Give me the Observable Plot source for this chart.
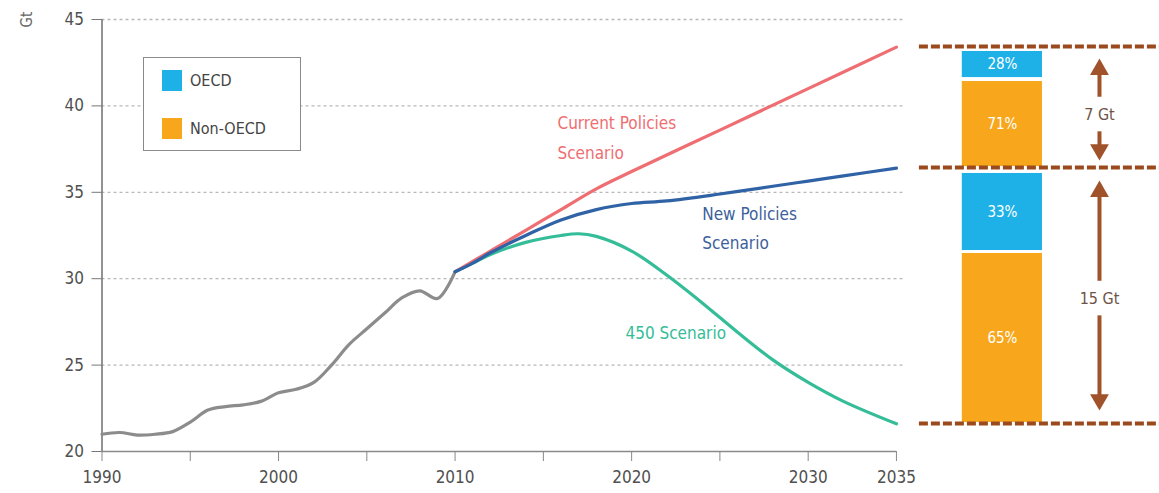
<!DOCTYPE html>
<html>
<head>
<meta charset="utf-8">
<script src="https://cdn.jsdelivr.net/npm/d3@7"></script>
<script src="https://cdn.jsdelivr.net/npm/@observablehq/plot@0.6"></script>
<style>
  html, body { margin: 0; padding: 0; background: #fff; }
  #wrap { position: relative; width: 1159px; height: 493px; font-family: "DejaVu Sans Condensed", "DejaVu Sans", sans-serif; font-stretch: condensed; }
  #legend { position: absolute; left: 143px; top: 57px; width: 158px; height: 94px; border: 1.5px solid #8a8a8a; box-sizing: border-box; background: #fff; }
  .li { position: absolute; left: 18px; display: flex; align-items: center; font-size: 16px; color: #444; }
  .sw { width: 20px; height: 21px; margin-right: 8px; }
</style>
</head>
<body>
<div id="wrap"></div>
<script>
// ---------- data ----------
const histYears = [1990,1991,1992,1993,1994,1995,1996,1997,1998,1999,2000,2001,2002,2003,2004,2005,2006,2007,2008,2009,2010];
const histValues = [21.0,21.1,20.95,21.0,21.15,21.7,22.4,22.6,22.7,22.9,23.4,23.6,24.0,25.0,26.2,27.1,28.0,28.9,29.3,28.85,30.4];

const currentYears = [2010,2012,2014,2016,2018,2020,2025,2030,2035];
const currentValues = [30.4,31.6,32.8,34.0,35.2,36.2,38.6,41.0,43.4];

const newYears = [2010,2011,2012,2014,2016,2018,2020,2022,2025,2028,2030,2032,2035];
const newValues = [30.4,30.9,31.5,32.5,33.4,34.0,34.35,34.5,34.9,35.35,35.65,35.95,36.4];

const s450Years = [2010,2011,2012,2014,2016,2017,2018,2020,2022,2024,2026,2028,2030,2032,2035];
const s450Values = [30.4,30.9,31.4,32.1,32.5,32.6,32.45,31.6,30.2,28.6,26.9,25.3,24.0,22.9,21.6];

const yTicks = [20,25,30,35,40,45];
const gridTicks = [25,30,35,40,45];
const xTicks = [1990,1995,2000,2005,2010,2015,2020,2025,2030,2035];
const xLabeled = [1990,2000,2010,2020,2030,2035];

// right panel: 2035 gaps between scenarios
const bandEdges = [43.44, 36.44, 21.62];
const bandLabels = ["7 Gt", "15 Gt"];
const bandLabelY = [39.5, 28.85];
const arrowTipTop = [42.74, 35.68];
const arrowTipBottom = [36.84, 22.37];

const segRegion = ["OECD", "Non-OECD", "OECD", "Non-OECD"];
const segTop = [43.15, 41.41, 36.09, 31.46];
const segBottom = [41.64, 36.49, 31.63, 21.68];
const segShare = ["28%", "71%", "33%", "65%"];

const scenarioLabels = [
  {text: "Current Policies", x: 2015.8, y: 38.98, s: "Current"},
  {text: "Scenario", x: 2015.8, y: 37.25, s: "Current"},
  {text: "New Policies", x: 2024.0, y: 33.7, s: "New"},
  {text: "Scenario", x: 2024.0, y: 32.05, s: "New"},
  {text: "450 Scenario", x: 2019.65, y: 26.85, s: "450"}
];

// ---------- layout / style ----------
const colors = {hist: "#8c8c8c", Current: "#ee6e72", New: "#2f63a6", "450": "#34bd98",
  OECD: "#1db1e7", "Non-OECD": "#f8a71c", brown: "#9a4a1c", arrow: "#a0532a", labelNew: "#3d5f9c"};
const panel = {dashX1: 2036.3, dashX2: 2050, barX1: 2038.73, barX2: 2043.27, arrowX: 2046.5};
const labelGap = 1.0;     // Gt between label and arrow shaft
const headOffset = 0.63;  // Gt from tip to triangle centre

const toPts = (xs, ys) => xs.map((x, i) => ({x, y: ys[i]}));
const hist = toPts(histYears, histValues);
const cur = toPts(currentYears, currentValues);
const nw = toPts(newYears, newValues);
const s450 = toPts(s450Years, s450Values);

const segs = segRegion.map((r, i) => ({region: r, y1: segTop[i], y2: segBottom[i], label: segShare[i]}));
const bands = bandLabels.map((l, i) => ({label: l, y: bandLabelY[i], top: arrowTipTop[i], bot: arrowTipBottom[i]}));
const shafts = bands.flatMap(b => [
  {y1: b.top - headOffset, y2: b.y + labelGap},
  {y1: b.y - labelGap, y2: b.bot + headOffset}
]);
const heads = bands.flatMap(b => [
  {y: b.top - headOffset, rot: 0},
  {y: b.bot + headOffset, rot: 180}
]);

const font = '"DejaVu Sans Condensed", "DejaVu Sans", sans-serif';

const chart = Plot.plot({
  width: 1159,
  height: 493,
  marginLeft: 101.5,
  marginRight: 0,
  marginTop: 19,
  marginBottom: 42,
  style: {fontFamily: font, color: "#505050", background: "#fff", overflow: "visible"},
  x: {domain: [1990, 2049.9]},
  y: {domain: [20, 45]},
  marks: [
    Plot.ruleY(gridTicks, {x1: 1990, x2: 2035.5, stroke: "#b9b9b9", strokeWidth: 1.3, strokeDasharray: "3,3"}),
    Plot.ruleX([1990], {y1: 20, y2: 45, stroke: "#777", strokeWidth: 1.6}),
    Plot.ruleY([20], {x1: 1990, x2: 2035, stroke: "#8a8a8a", strokeWidth: 1.6}),
    Plot.axisY({ticks: yTicks, tickSize: 10, tickPadding: 8, fontSize: 17, stroke: "#777", label: null}),
    Plot.axisX({ticks: xTicks, tickSize: 10, tickPadding: 9, fontSize: 17, stroke: "#888",
      tickFormat: d => xLabeled.includes(d) ? String(d) : "", label: null}),
    Plot.text(["Gt"], {frameAnchor: "top-left", dx: -80.5, dy: 8, rotate: -90, fontSize: 15, fill: "#666"}),
    Plot.line(hist, {x: "x", y: "y", stroke: colors.hist, strokeWidth: 3.2, curve: "catmull-rom"}),
    Plot.line(s450, {x: "x", y: "y", stroke: colors["450"], strokeWidth: 3.2, curve: "catmull-rom"}),
    Plot.line(cur, {x: "x", y: "y", stroke: colors.Current, strokeWidth: 3.2, curve: "catmull-rom"}),
    Plot.line(nw, {x: "x", y: "y", stroke: colors.New, strokeWidth: 3.2, curve: "catmull-rom"}),
    Plot.text(scenarioLabels, {x: "x", y: "y", text: "text", textAnchor: "start", fontSize: 17,
      fill: d => d.s === "Current" ? colors.Current : d.s === "New" ? colors.labelNew : colors["450"]}),
    // right panel
    Plot.rect(segs, {x1: panel.barX1, x2: panel.barX2, y1: "y1", y2: "y2", fill: d => colors[d.region]}),
    Plot.text(segs, {x: (panel.barX1 + panel.barX2) / 2, y: d => (d.y1 + d.y2) / 2, text: "label",
      fill: "#fff", fontSize: 15}),
    Plot.ruleY(bandEdges, {x1: panel.dashX1, x2: panel.dashX2, stroke: colors.brown, strokeWidth: 4, strokeDasharray: "9,3"}),
    Plot.ruleX(shafts, {x: panel.arrowX, y1: "y1", y2: "y2", stroke: colors.arrow, strokeWidth: 4}),
    Plot.dot(heads, {x: panel.arrowX, y: "y", symbol: "triangle", r: 7, rotate: "rot", fill: colors.arrow, stroke: "none"}),
    Plot.text(bands, {x: panel.arrowX, y: "y", text: "label", fontSize: 16, fill: "#6e5446"})
  ]
});

const wrap = document.getElementById("wrap");
wrap.appendChild(chart);

const legend = document.createElement("div");
legend.id = "legend";
legend.innerHTML =
  `<div class="li" style="top:12px"><div class="sw" style="background:${colors.OECD}"></div>OECD</div>` +
  `<div class="li" style="top:60px"><div class="sw" style="background:${colors["Non-OECD"]}"></div>Non-OECD</div>`;
wrap.appendChild(legend);
</script>
</body>
</html>
